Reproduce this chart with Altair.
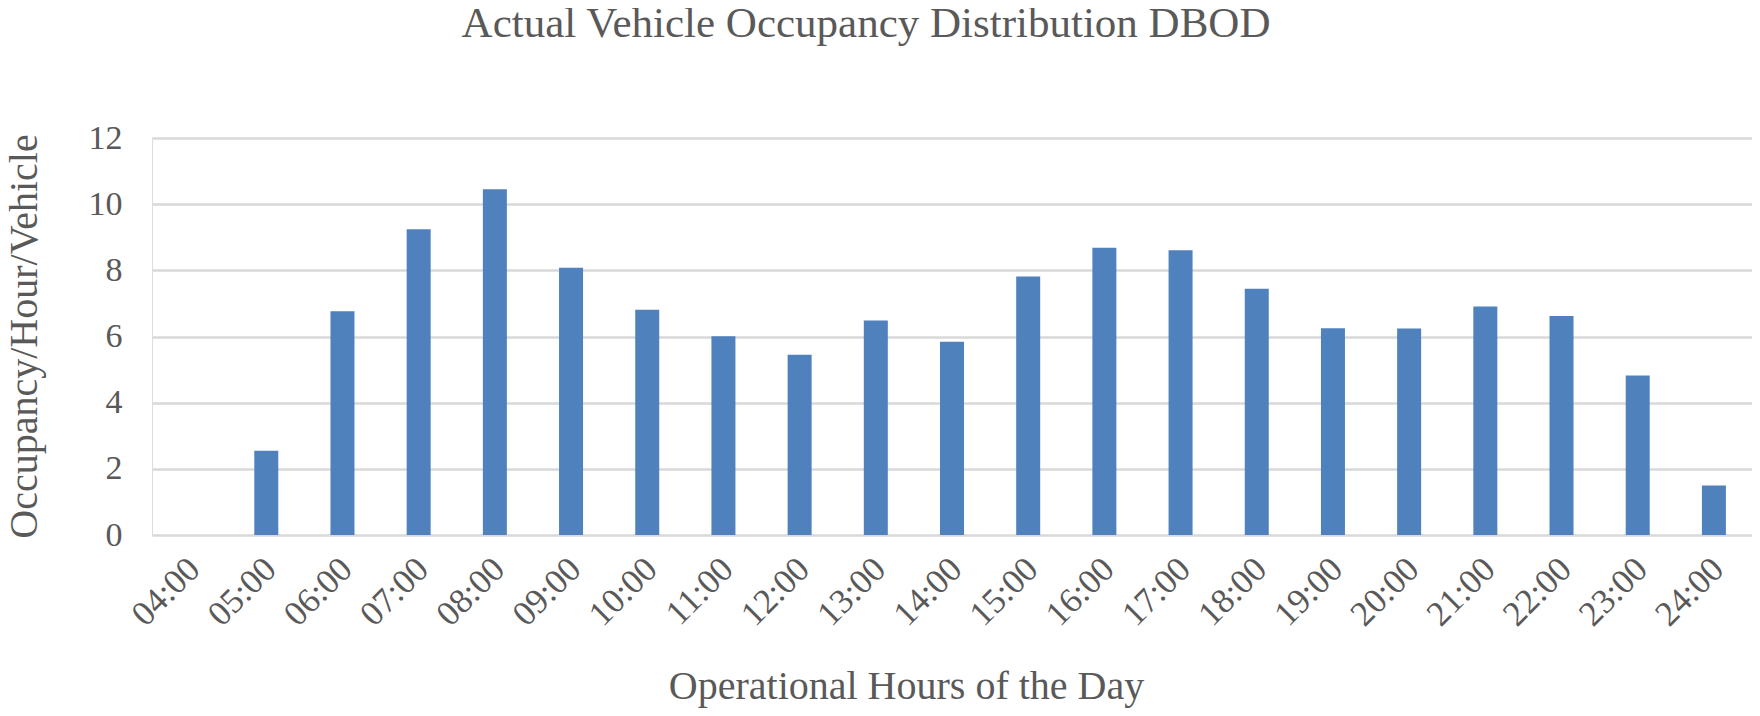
import altair as alt
import pandas as pd

hours = ["04:00", "05:00", "06:00", "07:00", "08:00", "09:00", "10:00",
         "11:00", "12:00", "13:00", "14:00", "15:00", "16:00", "17:00",
         "18:00", "19:00", "20:00", "21:00", "22:00", "23:00", "24:00"]
occupancy = [0.0, 2.55, 6.76, 9.24, 10.45, 8.08, 6.81,
             6.01, 5.45, 6.48, 5.84, 7.81, 8.68, 8.61,
             7.44, 6.25, 6.24, 6.91, 6.62, 4.82, 1.50]
title_text = ["Actual Vehicle Occupancy Distribution DBOD"]

df = pd.DataFrame({"hour": hours, "value": occupancy})
tdf = pd.DataFrame({"t": title_text})

FONT = "Liberation Serif"
GREY = "#595959"

bars = alt.Chart(df).mark_bar(color="#4f81bd").encode(
    x=alt.X("hour:N", sort=hours,
            scale=alt.Scale(paddingInner=0.685, paddingOuter=0.3425),
            axis=alt.Axis(title="Operational Hours of the Day",
                          labelAngle=-45, labelAlign="right", labelBaseline="middle",
                          labelPadding=28, labelOffset=4,
                          labelFont=FONT, labelFontSize=35, labelColor=GREY,
                          titleFont=FONT, titleFontSize=40, titleColor=GREY,
                          titleFontWeight="normal",
                          titleX=754, titleY=163, titleBaseline="alphabetic",
                          titleAlign="center",
                          ticks=False, domain=False, grid=False)),
    y=alt.Y("value:Q", scale=alt.Scale(domain=[0, 12], nice=False),
            axis=alt.Axis(title="Occupancy/Hour/Vehicle", values=[0, 2, 4, 6, 8, 10, 12],
                          labelFont=FONT, labelFontSize=34, labelColor=GREY,
                          labelPadding=30,
                          titleFont=FONT, titleFontSize=40, titleColor=GREY,
                          titleFontWeight="normal",
                          titleX=-116, titleY=198, titleBaseline="alphabetic",
                          titleAlign="center", titleAngle=270,
                          ticks=False, domain=False,
                          gridColor="#d9d9d9", gridWidth=2.5)),
)

title = alt.Chart(tdf).mark_text(
    font=FONT, fontSize=43, color=GREY, align="center", baseline="alphabetic"
).encode(text="t:N", x=alt.value(714), y=alt.value(-101))

chart = alt.layer(bars, title).properties(
    width=1600,
    height=397,
    padding={"left": 144, "top": 130, "right": 0, "bottom": 173},
    autosize="none",
).configure_view(stroke=None).configure(background="white")

chart.save("out.html", embed_options={"renderer": "svg", "actions": False})
